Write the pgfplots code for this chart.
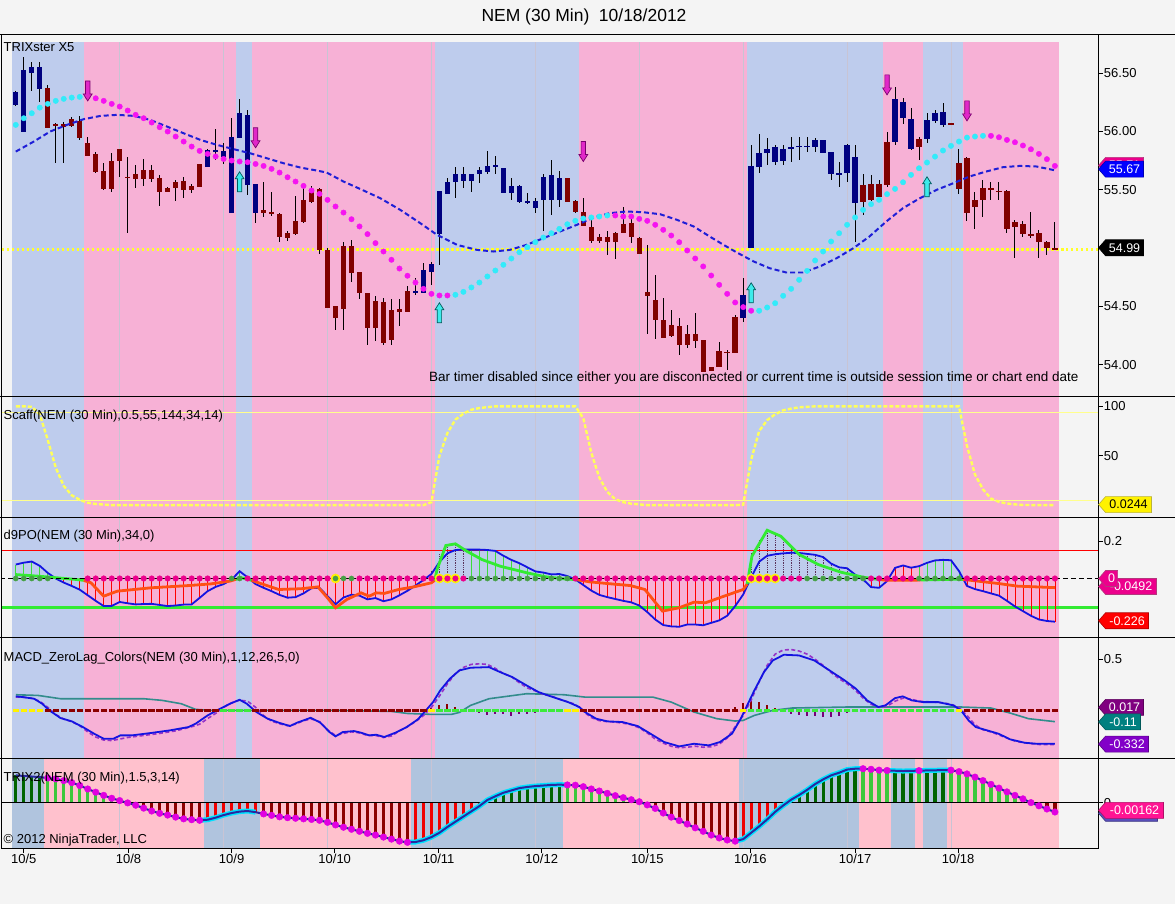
\documentclass[border=0pt]{standalone}
\usepackage{fontspec}
\setmainfont{Liberation Sans}
\usepackage{pgfplots}
\usepackage{pgfplotstable}
\pgfplotsset{compat=1.18}

\definecolor{bgc}{RGB}{244,244,244}
\definecolor{bblue}{RGB}{190,204,237}
\definecolor{bpink}{RGB}{247,177,214}
\definecolor{tpink}{RGB}{255,193,205}
\definecolor{tblue}{RGB}{176,196,222}
\definecolor{gridc}{RGB}{200,196,212}
\definecolor{upc}{RGB}{0,0,128}
\definecolor{dnc}{RGB}{128,0,0}
\definecolor{trixb}{RGB}{30,30,215}
\definecolor{dotc}{RGB}{50,235,250}
\definecolor{dotm}{RGB}{245,20,240}
\definecolor{arrm}{RGB}{225,40,200}
\definecolor{arrmd}{RGB}{120,0,110}
\definecolor{arrc}{RGB}{60,235,235}
\definecolor{arrcd}{RGB}{0,90,90}
\definecolor{yel}{RGB}{255,255,40}
\definecolor{scy}{RGB}{255,255,90}
\definecolor{scthin}{RGB}{255,255,140}
\definecolor{d9blue}{RGB}{20,20,225}
\definecolor{d9green}{RGB}{50,235,50}
\definecolor{d9orange}{RGB}{255,80,20}
\definecolor{d9dotg}{RGB}{70,160,70}
\definecolor{lgreen}{RGB}{60,220,60}
\definecolor{dotdark}{RGB}{90,50,90}
\definecolor{mteal}{RGB}{50,140,140}
\definecolor{mpurp}{RGB}{150,50,200}
\definecolor{mblue}{RGB}{20,20,225}
\definecolor{mdred}{RGB}{140,0,0}
\definecolor{mgreen}{RGB}{60,235,60}
\definecolor{mhpurp}{RGB}{120,0,120}
\definecolor{tdg}{RGB}{0,100,0}
\definecolor{tlg}{RGB}{60,200,60}
\definecolor{tdr}{RGB}{140,0,0}
\definecolor{trd}{RGB}{240,0,0}
\definecolor{tline}{RGB}{40,40,160}
\definecolor{tcyan}{RGB}{0,225,255}
\definecolor{tmag}{RGB}{225,0,225}
\definecolor{tagpurple}{RGB}{128,0,128}
\definecolor{tagviolet}{RGB}{130,0,200}
\definecolor{deeppink}{RGB}{255,20,147}
\definecolor{tagshadow}{RGB}{90,80,190}

\pgfdeclareplotmark{downarr}{%
  \pgfpathmoveto{\pgfqpoint{-2.2pt}{10pt}}%
  \pgfpathlineto{\pgfqpoint{2.2pt}{10pt}}%
  \pgfpathlineto{\pgfqpoint{2.2pt}{-3pt}}%
  \pgfpathlineto{\pgfqpoint{4.4pt}{-3pt}}%
  \pgfpathlineto{\pgfqpoint{0pt}{-10pt}}%
  \pgfpathlineto{\pgfqpoint{-4.4pt}{-3pt}}%
  \pgfpathlineto{\pgfqpoint{-2.2pt}{-3pt}}%
  \pgfpathclose
  \pgfusepathqfillstroke}
\pgfdeclareplotmark{uparr}{%
  \pgfpathmoveto{\pgfqpoint{-2.2pt}{-10pt}}%
  \pgfpathlineto{\pgfqpoint{2.2pt}{-10pt}}%
  \pgfpathlineto{\pgfqpoint{2.2pt}{3pt}}%
  \pgfpathlineto{\pgfqpoint{4.4pt}{3pt}}%
  \pgfpathlineto{\pgfqpoint{0pt}{10pt}}%
  \pgfpathlineto{\pgfqpoint{-4.4pt}{3pt}}%
  \pgfpathlineto{\pgfqpoint{-2.2pt}{3pt}}%
  \pgfpathclose
  \pgfusepathqfillstroke}

\pgfplotsset{
  panel/.style={
    scale only axis, width=1097.7pt, anchor=south west,
    xmin=-1.7875, xmax=135.425,
    axis background/.style={fill=bgc},
    axis line style={draw=none},
    xtick=\empty,
    ytick pos=right, yticklabel pos=right,
    tick align=outside, major tick length=4.5pt,
    tick style={black, line width=0.8pt},
    yticklabel style={font=\fontsize{13}{15}\selectfont, inner sep=1pt},
    scaled y ticks=false,
    clip=true,
  }
}
\newcommand\band[5]{\addplot[fill=#1, draw=none, forget plot] coordinates {(#2,#4) (#3,#4) (#3,#5) (#2,#5)};}
\newcommand\vgrid[2]{\pgfplotsinvokeforeach{13,26,39,52,65,78,91,104,117}{\addplot[gridc, line width=0.7pt, forget plot] coordinates {(##1,#1) (##1,#2)};}}
\newcommand\tagbox[5]{%
  \filldraw[fill=#2, draw=#2!70!black, line width=0.6pt] (1099,905-#1) -- (1106,913-#1) -- (1106+#4,913-#1) -- (1106+#4,897-#1) -- (1106,897-#1) -- cycle;
  \node[text=#3, font=\fontsize{12.5}{14}\selectfont, inner sep=0pt] at (1106+#4/2,905-#1) {#5};}

% ---------------- candles: i, up(1)/down(0), open, high, low, close
\pgfplotstableread{
i u o h l c
0 1 56.229 56.351 56.220 56.343
1 1 56.000 56.637 56.000 56.529
2 1 56.500 56.594 56.351 56.551
3 1 56.369 56.594 56.257 56.551
4 0 56.371 56.400 56.034 56.034
5 0 56.063 56.071 55.729 56.051
6 0 56.063 56.086 55.729 56.043
7 0 56.106 56.123 56.037 56.043
8 0 56.094 56.134 55.929 55.943
9 0 55.900 55.951 55.786 55.786
10 0 55.809 55.828 55.643 55.651
11 0 55.663 55.729 55.500 55.509
12 0 55.749 55.814 55.486 55.509
13 0 55.851 55.851 55.614 55.743
14 0 55.614 55.786 55.129 55.600
15 0 55.637 55.714 55.514 55.594
16 0 55.671 55.763 55.529 55.591
17 0 55.671 55.714 55.571 55.594
18 0 55.600 55.629 55.366 55.486
19 0 55.517 55.529 55.480 55.486
20 0 55.571 55.586 55.409 55.514
21 0 55.580 55.614 55.429 55.500
22 0 55.529 55.551 55.471 55.500
23 0 55.720 55.720 55.529 55.529
24 1 55.700 55.849 55.694 55.843
25 1 55.823 56.020 55.757 55.843
26 1 55.786 55.900 55.723 55.837
27 1 55.300 56.120 55.300 55.951
28 1 55.948 56.280 55.948 56.163
29 1 55.543 56.186 55.457 56.143
30 1 55.300 55.551 55.214 55.551
31 0 55.329 55.571 55.271 55.306
32 0 55.314 55.480 55.277 55.291
33 0 55.294 55.300 55.051 55.094
34 0 55.129 55.143 55.057 55.086
35 0 55.234 55.451 55.114 55.120
36 0 55.414 55.514 55.214 55.229
37 0 55.506 55.529 55.391 55.400
38 0 55.506 55.514 54.951 54.986
39 0 54.986 55.000 54.491 54.491
40 0 54.500 54.500 54.300 54.400
41 0 55.023 55.057 54.300 54.477
42 0 55.020 55.066 54.706 54.791
43 0 54.794 54.794 54.563 54.614
44 0 54.614 54.614 54.171 54.320
45 0 54.543 54.586 54.200 54.314
46 0 54.534 54.571 54.171 54.186
47 0 54.471 54.563 54.171 54.209
48 0 54.480 54.563 54.334 54.457
49 0 54.634 54.671 54.457 54.457
50 1 54.614 54.743 54.600 54.634
51 1 54.620 54.871 54.614 54.814
52 1 54.800 54.886 54.686 54.863
53 1 55.120 55.491 54.857 55.491
54 1 55.463 55.600 55.463 55.563
55 1 55.571 55.700 55.429 55.634
56 1 55.580 55.700 55.520 55.634
57 1 55.580 55.634 55.486 55.634
58 1 55.634 55.700 55.557 55.671
59 1 55.657 55.834 55.637 55.706
60 1 55.694 55.791 55.637 55.714
61 1 55.477 55.691 55.471 55.691
62 1 55.471 55.600 55.414 55.534
63 1 55.400 55.543 55.386 55.537
64 1 55.394 55.471 55.377 55.406
65 1 55.348 55.429 55.306 55.406
66 1 55.414 55.637 55.149 55.614
67 1 55.414 55.757 55.286 55.629
68 1 55.414 55.666 55.357 55.600
69 0 55.606 55.606 55.400 55.400
70 0 55.406 55.414 55.306 55.306
71 0 55.306 55.429 55.186 55.186
72 0 55.186 55.243 55.043 55.063
73 0 55.100 55.123 55.043 55.063
74 0 55.094 55.143 54.943 55.051
75 0 55.129 55.143 54.906 55.051
76 0 55.206 55.351 55.129 55.129
77 0 55.214 55.277 55.043 55.094
78 0 55.086 55.100 54.949 54.949
79 0 54.623 55.029 54.263 54.586
80 0 54.557 54.771 54.220 54.386
81 0 54.386 54.571 54.229 54.234
82 0 54.343 54.471 54.243 54.249
83 0 54.334 54.400 54.086 54.171
84 0 54.266 54.343 54.143 54.171
85 0 54.266 54.443 54.143 54.200
86 0 54.214 54.214 53.943 53.943
87 0 53.980 53.980 53.943 53.951
88 0 54.120 54.194 53.977 53.977
89 0 54.114 54.128 53.957 54.100
90 0 54.409 54.428 54.100 54.100
91 1 54.400 54.743 54.371 54.600
92 1 55.000 55.886 55.000 55.706
93 1 55.700 55.980 55.649 55.814
94 1 55.814 55.948 55.714 55.851
95 1 55.743 55.886 55.714 55.871
96 1 55.751 55.886 55.714 55.851
97 1 55.851 55.951 55.743 55.871
98 1 55.871 55.951 55.757 55.880
99 1 55.871 55.951 55.828 55.880
100 1 55.871 55.943 55.828 55.929
101 1 55.820 55.929 55.820 55.929
102 1 55.634 55.828 55.586 55.828
103 1 55.629 55.743 55.529 55.643
104 1 55.649 55.891 55.571 55.886
105 1 55.391 55.886 55.057 55.780
106 0 55.543 55.637 55.286 55.400
107 0 55.551 55.629 55.400 55.409
108 0 55.551 55.586 55.437 55.437
109 0 55.909 56.000 55.523 55.543
110 1 55.906 56.380 55.886 56.280
111 1 56.114 56.286 56.063 56.257
112 1 55.849 56.200 55.843 56.106
113 0 55.937 55.951 55.757 55.866
114 1 55.934 56.157 55.906 56.100
115 1 56.091 56.186 56.071 56.163
116 1 56.057 56.249 56.037 56.169
117 0 56.071 56.077 56.057 56.060
118 0 55.729 55.851 55.463 55.506
119 0 55.777 55.786 55.237 55.306
120 0 55.414 55.486 55.166 55.351
121 0 55.514 55.586 55.271 55.409
122 0 55.514 55.571 55.414 55.506
123 0 55.494 55.571 55.414 55.486
124 0 55.494 55.500 55.129 55.166
125 0 55.223 55.243 54.920 55.186
126 0 55.209 55.229 55.100 55.120
127 0 55.123 55.306 55.086 55.109
128 0 55.129 55.157 54.914 55.051
129 0 55.051 55.066 54.943 55.000
130 0 55.000 55.229 54.991 54.991
}\candles

% ---------------- TRIXster dots: i, price, c (1 cyan rising, 0 magenta falling)
\pgfplotstableread{
i p c
0 56.057 1
1 56.114 1
2 56.157 1
3 56.205 1
4 56.237 1
5 56.263 1
6 56.280 1
7 56.291 1
8 56.297 1
9 56.300 0
10 56.285 0
11 56.263 0
12 56.237 0
13 56.214 0
14 56.180 0
15 56.143 0
16 56.114 0
17 56.077 0
18 56.037 0
19 56.000 0
20 55.957 0
21 55.914 0
22 55.871 0
23 55.834 0
24 55.808 0
25 55.786 0
26 55.765 0
27 55.751 0
28 55.743 0
29 55.737 0
30 55.722 0
31 55.705 0
32 55.680 0
33 55.648 0
34 55.608 0
35 55.571 0
36 55.534 0
37 55.494 0
38 55.465 0
39 55.414 0
40 55.357 0
41 55.305 0
42 55.248 0
43 55.186 0
44 55.120 0
45 55.043 0
46 54.971 0
47 54.900 0
48 54.825 0
49 54.763 0
50 54.705 0
51 54.651 0
52 54.608 0
53 54.594 0
54 54.594 0
55 54.600 1
56 54.625 1
57 54.663 1
58 54.705 1
59 54.757 1
60 54.808 1
61 54.857 1
62 54.911 1
63 54.965 1
64 55.008 1
65 55.051 1
66 55.091 1
67 55.128 1
68 55.165 1
69 55.205 1
70 55.234 1
71 55.254 1
72 55.263 1
73 55.271 1
74 55.280 1
75 55.280 0
76 55.271 0
77 55.271 0
78 55.251 0
79 55.234 0
80 55.200 0
81 55.157 0
82 55.108 0
83 55.051 0
84 54.980 0
85 54.911 0
86 54.843 0
87 54.765 0
88 54.685 0
89 54.608 0
90 54.534 0
91 54.494 0
92 54.463 0
93 54.463 1
94 54.491 1
95 54.528 1
96 54.591 1
97 54.651 1
98 54.728 1
99 54.805 1
100 54.894 1
101 54.971 1
102 55.057 1
103 55.128 1
104 55.200 1
105 55.263 1
106 55.328 1
107 55.377 1
108 55.414 1
109 55.463 1
110 55.508 1
111 55.565 1
112 55.628 1
113 55.685 1
114 55.734 1
115 55.785 1
116 55.837 1
117 55.877 1
118 55.914 1
119 55.948 1
120 55.957 1
121 55.963 1
122 55.963 0
123 55.951 0
124 55.928 0
125 55.908 0
126 55.880 0
127 55.848 0
128 55.808 0
129 55.763 0
130 55.705 0
}\tdots

% ---------------- per-bar indicators
% sc: Scaff; d9: d9PO; dd: zero-dot colour (1 green, 2 magenta); dr: yellow ring;
% dk: d9PO bar style (0 red, 1 green, 2 dotted); mz: MACD zero-row colour (1 yellow, 2 dark red, 3 green);
% tx: TRIX2; tc: TRIX2 bar colour (1 dark green, 2 light green, 3 dark red, 4 red)
\pgfplotstableread{
i sc d9 dd dr dk mz tx tc
0 100 0.075 1 0 1 1 0.00470 1
1 100 0.085 1 0 1 1 0.00460 1
2 99.5 0.091 1 0 1 1 0.00450 1
3 92 0.068 1 0 1 1 0.00440 1
4 66 0.030 1 0 1 2 0.00425 2
5 38 0.000 0 0 1 2 0.00410 2
6 19.5 -0.022 0 0 0 2 0.00380 2
7 10 -0.040 0 0 0 2 0.00345 2
8 5.4 -0.060 0 0 0 2 0.00295 2
9 2.5 -0.090 2 0 0 2 0.00235 2
10 1.2 -0.120 2 0 0 2 0.00180 2
11 0.6 -0.148 2 0 0 2 0.00125 2
12 0 -0.147 2 0 0 2 0.00075 2
13 0 -0.126 2 0 0 2 0.00035 2
14 0 -0.133 2 0 0 2 -0.00005 3
15 0 -0.139 2 0 0 2 -0.00045 3
16 0 -0.137 2 0 0 2 -0.00095 3
17 0 -0.136 2 0 0 2 -0.00145 3
18 0 -0.142 2 0 0 2 -0.00185 3
19 0 -0.148 2 0 0 2 -0.00215 3
20 0 -0.145 2 0 0 2 -0.00250 3
21 0 -0.140 2 0 0 2 -0.00280 3
22 0 -0.139 2 0 0 2 -0.00295 3
23 0 -0.104 2 0 0 2 -0.00305 3
24 0 -0.068 2 0 0 2 -0.00295 4
25 0 -0.045 2 0 0 2 -0.00260 4
26 0 -0.030 2 0 0 3 -0.00215 4
27 0 -0.006 1 0 0 3 -0.00180 4
28 0 0.039 1 0 1 3 -0.00155 4
29 0 0.006 2 0 1 3 -0.00145 4
30 0 -0.030 2 0 0 2 -0.00165 4
31 0 -0.050 2 0 0 2 -0.00195 3
32 0 -0.068 2 0 0 2 -0.00220 3
33 0 -0.088 2 0 0 2 -0.00245 3
34 0 -0.103 2 0 0 2 -0.00260 3
35 0 -0.100 2 0 0 2 -0.00270 3
36 0 -0.080 2 0 0 2 -0.00280 3
37 0 -0.052 2 0 0 2 -0.00290 3
38 0 -0.050 2 0 0 2 -0.00305 3
39 0 -0.095 2 0 0 2 -0.00340 3
40 0 -0.139 1 1 0 2 -0.00385 3
41 0 -0.102 1 0 0 2 -0.00425 3
42 0 -0.087 1 0 0 2 -0.00460 3
43 0 -0.092 2 0 0 2 -0.00495 3
44 0 -0.112 2 0 0 2 -0.00530 3
45 0 -0.105 2 0 0 2 -0.00560 3
46 0 -0.122 2 0 0 2 -0.00595 3
47 0 -0.112 2 0 0 2 -0.00630 3
48 0 -0.090 2 0 0 2 -0.00665 3
49 0 -0.066 2 0 0 2 -0.00685 3
50 0 -0.038 2 0 0 2 -0.00680 4
51 0 -0.008 2 0 0 2 -0.00650 4
52 3 0.024 2 0 2 1 -0.00595 4
53 50 0.088 2 1 2 3 -0.00520 4
54 73 0.135 2 1 2 3 -0.00420 4
55 86.6 0.153 2 1 2 3 -0.00330 4
56 92.6 0.155 2 0 2 3 -0.00240 4
57 96.6 0.155 1 0 1 3 -0.00150 4
58 98.3 0.155 1 0 1 3 -0.00060 4
59 99.2 0.153 1 0 1 3 0.00045 1
60 100 0.148 1 0 1 3 0.00110 1
61 100 0.122 1 0 1 3 0.00170 1
62 100 0.100 1 0 1 3 0.00210 1
63 100 0.082 1 0 1 3 0.00250 1
64 100 0.060 1 0 1 3 0.00270 1
65 100 0.038 1 0 1 3 0.00285 1
66 100 0.032 1 0 1 3 0.00295 1
67 100 0.022 1 0 1 3 0.00305 1
68 100 0.024 1 0 1 3 0.00310 1
69 100 0.013 1 0 1 1 0.00305 2
70 100 -0.005 2 0 0 1 0.00300 2
71 88 -0.035 2 0 0 2 0.00275 2
72 53 -0.065 2 0 0 2 0.00235 2
73 28 -0.088 2 0 0 2 0.00200 2
74 13.4 -0.100 2 0 0 2 0.00160 2
75 6 -0.110 2 0 0 2 0.00120 2
76 3 -0.120 2 0 0 2 0.00085 2
77 1.5 -0.128 2 0 0 2 0.00050 2
78 0.8 -0.145 2 0 0 2 0.00015 2
79 0 -0.180 2 0 0 2 -0.00040 3
80 0 -0.220 2 0 0 2 -0.00100 3
81 0 -0.250 2 0 0 2 -0.00180 3
82 0 -0.257 2 0 0 2 -0.00250 3
83 0 -0.259 2 0 0 2 -0.00310 3
84 0 -0.247 2 0 0 2 -0.00370 3
85 0 -0.247 2 0 0 2 -0.00435 3
86 0 -0.251 2 0 0 2 -0.00495 3
87 0 -0.238 2 0 0 2 -0.00560 3
88 0 -0.225 2 0 0 2 -0.00610 3
89 0 -0.200 2 0 0 2 -0.00645 3
90 0 -0.148 2 0 0 2 -0.00665 3
91 0.5 -0.086 2 0 0 1 -0.00630 4
92 46 0.005 2 1 2 3 -0.00520 4
93 75 0.090 2 1 2 3 -0.00410 4
94 86 0.122 2 1 2 3 -0.00290 4
95 92 0.130 2 1 2 3 -0.00160 4
96 96 0.135 2 0 2 3 -0.00050 4
97 97.7 0.138 2 0 2 3 0.00050 1
98 99 0.137 2 0 2 3 0.00130 1
99 99.5 0.132 1 0 2 3 0.00220 1
100 100 0.127 1 0 2 3 0.00320 1
101 100 0.115 1 0 2 3 0.00400 1
102 100 0.080 1 0 2 3 0.00470 1
103 100 0.060 1 0 2 3 0.00515 1
104 100 0.055 1 0 2 3 0.00570 1
105 100 0.021 1 0 2 3 0.00585 1
106 100 -0.005 1 0 0 3 0.00585 2
107 100 -0.046 2 0 0 3 0.00575 2
108 100 -0.050 2 0 0 3 0.00560 2
109 100 -0.014 2 0 0 3 0.00555 2
110 100 0.057 2 0 0 3 0.00550 1
111 100 0.070 2 0 0 3 0.00545 1
112 100 0.058 2 0 0 3 0.00548 1
113 100 0.066 1 0 1 3 0.00552 2
114 100 0.084 1 0 1 3 0.00555 1
115 100 0.097 1 0 1 3 0.00558 1
116 100 0.100 1 0 1 3 0.00560 1
117 100 0.098 1 0 1 3 0.00560 2
118 100 0.040 1 0 1 1 0.00535 2
119 60 -0.040 2 0 0 2 0.00495 2
120 31 -0.057 2 0 0 2 0.00440 2
121 16 -0.068 2 0 0 2 0.00380 2
122 6.7 -0.080 2 0 0 2 0.00315 2
123 3.4 -0.092 2 0 0 2 0.00250 2
124 1.7 -0.120 2 0 0 2 0.00185 2
125 0.8 -0.150 2 0 0 2 0.00125 2
126 0.2 -0.175 2 0 0 2 0.00065 2
127 0.1 -0.200 2 0 0 2 0.00000 3
128 0.05 -0.220 2 0 0 2 -0.00055 3
129 0.03 -0.228 2 0 0 2 -0.00110 3
130 0.0244 -0.232 2 0 0 2 -0.00162 3
}\perbar

\begin{document}
\begin{tikzpicture}[x=1pt,y=1pt]
\fill[bgc] (0,0) rectangle (1175,905);

% ================= Panel 1: price
\begin{axis}[panel, at={(1pt,508.3pt)}, height=362.4pt, ymin=53.7288, ymax=56.8342,
  ytick={54,54.5,55.5,56,56.5}, yticklabels={54.00,54.50,55.50,56.00,56.50}]
\band{bblue}{-0.5}{8.5}{53.7}{56.771}
\band{bpink}{8.5}{27.5}{53.7}{56.771}
\band{bblue}{27.5}{29.5}{53.7}{56.771}
\band{bpink}{29.5}{52.5}{53.7}{56.771}
\band{bblue}{52.5}{70.5}{53.7}{56.771}
\band{bpink}{70.5}{91.5}{53.7}{56.771}
\band{bblue}{91.5}{108.5}{53.7}{56.771}
\band{bpink}{108.5}{113.5}{53.7}{56.771}
\band{bblue}{113.5}{118.5}{53.7}{56.771}
\band{bpink}{118.5}{130.5}{53.7}{56.771}
\vgrid{53.7}{56.771}
\addplot[yel, line width=2.6pt, dash pattern=on 2.6pt off 2.4pt, forget plot] coordinates {(-3,54.99) (137,54.99)};
% candle wicks
\addplot[draw=none, mark=none, forget plot, error bars/.cd, y dir=both, y explicit, error mark=none,
  error bar style={draw=black, line width=1pt}]
  table[x=i, y expr={(\thisrow{h}+\thisrow{l})/2}, y error expr={(\thisrow{h}-\thisrow{l})/2}] {\candles};
% bodies (rows of the other colour are sent above the axis)
\addplot[draw=none, mark=none, forget plot, error bars/.cd, y dir=both, y explicit, error mark=none,
  error bar style={draw=upc, line width=5.4pt}]
  table[x=i, y expr={\thisrow{u}==1 ? (\thisrow{o}+\thisrow{c})/2 : 58}, y error expr={max(abs(\thisrow{o}-\thisrow{c})/2,0.005)}] {\candles};
\addplot[draw=none, mark=none, forget plot, error bars/.cd, y dir=both, y explicit, error mark=none,
  error bar style={draw=dnc, line width=5.4pt}]
  table[x=i, y expr={\thisrow{u}==0 ? (\thisrow{o}+\thisrow{c})/2 : 58}, y error expr={max(abs(\thisrow{o}-\thisrow{c})/2,0.005)}] {\candles};
% TRIXster baseline
\addplot[trixb, line width=2pt, dash pattern=on 5pt off 3pt, forget plot] coordinates {
(0,55.828) (2.25,55.914) (4.3,56.0) (6.4,56.057) (8.5,56.106) (10.6,56.134) (12.7,56.143) (14.8,56.134)
(16.8,56.1) (18.9,56.043) (21.0,55.985) (23.1,55.928) (25.2,55.885) (27.3,55.848) (29.3,55.814) (31.4,55.771)
(33.5,55.728) (35.6,55.691) (37.7,55.665) (38.9,55.648) (41.0,55.571) (43.1,55.507) (45.6,55.428) (48.1,55.328)
(50.6,55.214) (52.7,55.114) (55.2,55.028) (57.7,54.985) (59.8,54.971) (61.8,54.985) (63.9,55.028) (66.0,55.085)
(68.1,55.143) (70.2,55.2) (72.3,55.263) (74.3,55.3) (76.4,55.314) (78.5,55.308) (80.6,55.291) (82.7,55.243)
(84.8,55.186) (86.8,55.1) (88.5,55.03) (90.2,54.963) (92.3,54.886) (94.3,54.828) (96.4,54.791) (98.5,54.791)
(100.6,54.843) (102.7,54.914) (104.8,55.0) (106.8,55.1) (108.9,55.228) (111.0,55.343) (113.1,55.428) (115.2,55.5)
(117.3,55.557) (119.3,55.614) (121.4,55.657) (123.5,55.694) (125.6,55.705) (127.7,55.7) (129.75,55.671) (130.2,55.665)};
% TRIXster dots
\addplot[only marks, mark=*, mark size=2.7pt, mark options={fill=dotc, draw=dotc}, forget plot] table[x=i,y expr={\thisrow{c}==1 ? \thisrow{p} : 58}]{\tdots};
\addplot[only marks, mark=*, mark size=2.7pt, mark options={fill=dotm, draw=dotm}, forget plot] table[x=i,y expr={\thisrow{c}==0 ? \thisrow{p} : 58}]{\tdots};
% signal arrows
\addplot[only marks, mark=downarr, mark options={fill=arrm, draw=arrmd, line width=0.7pt}, forget plot] coordinates {(9,56.348) (30,55.946) (71,55.828) (109,56.4) (119,56.177)};
\addplot[only marks, mark=uparr, mark options={fill=arrc, draw=arrcd, line width=0.7pt}, forget plot] coordinates {(28,55.569) (53,54.446) (92,54.617) (114,55.526)};
\end{axis}

% ================= Panel 2: Scaff
\begin{axis}[panel, at={(1pt,387.3pt)}, height=121pt, ymin=-12.23, ymax=110.11,
  ytick={50,100}, yticklabels={50,100}]
\band{bblue}{-0.5}{8.5}{-13}{111}
\band{bpink}{8.5}{27.5}{-13}{111}
\band{bblue}{27.5}{29.5}{-13}{111}
\band{bpink}{29.5}{52.5}{-13}{111}
\band{bblue}{52.5}{70.5}{-13}{111}
\band{bpink}{70.5}{91.5}{-13}{111}
\band{bblue}{91.5}{108.5}{-13}{111}
\band{bpink}{108.5}{113.5}{-13}{111}
\band{bblue}{113.5}{118.5}{-13}{111}
\band{bpink}{118.5}{130.5}{-13}{111}
\vgrid{-13}{111}
\addplot[scthin, line width=0.8pt, forget plot] coordinates {(-3,94) (137,94)};
\addplot[scthin, line width=0.8pt, forget plot] coordinates {(-3,4.6) (137,4.6)};
\addplot[scy, line width=2.4pt, dash pattern=on 4pt off 2pt, forget plot] table[x=i,y=sc]{\perbar};
\end{axis}

% ================= Panel 3: d9PO
\begin{axis}[panel, at={(1pt,266.7pt)}, height=120.6pt, ymin=-0.318, ymax=0.3287,
  ytick={0.2}, yticklabels={0.2}]
\band{bblue}{-0.5}{8.5}{-0.33}{0.33}
\band{bpink}{8.5}{27.5}{-0.33}{0.33}
\band{bblue}{27.5}{29.5}{-0.33}{0.33}
\band{bpink}{29.5}{52.5}{-0.33}{0.33}
\band{bblue}{52.5}{70.5}{-0.33}{0.33}
\band{bpink}{70.5}{91.5}{-0.33}{0.33}
\band{bblue}{91.5}{108.5}{-0.33}{0.33}
\band{bpink}{108.5}{113.5}{-0.33}{0.33}
\band{bblue}{113.5}{118.5}{-0.33}{0.33}
\band{bpink}{118.5}{130.5}{-0.33}{0.33}
\vgrid{-0.33}{0.33}
\addplot[red, line width=0.9pt, forget plot] coordinates {(-3,0.152) (137,0.152)};
\addplot[d9green, line width=2.6pt, forget plot] coordinates {(-3,-0.157) (137,-0.157)};
\addplot[ycomb, red, line width=0.8pt, forget plot] table[x=i,y expr={\thisrow{dk}==0 ? \thisrow{d9} : 0}]{\perbar};
\addplot[ycomb, lgreen, line width=0.8pt, forget plot] table[x=i,y expr={\thisrow{dk}==1 ? \thisrow{d9} : 0}]{\perbar};
\addplot[ycomb, dotdark, line width=0.8pt, densely dotted, forget plot] coordinates {
(52,0.04) (53,0.13) (54,0.18) (55,0.186) (56,0.165) (92,0.14) (93,0.21) (94,0.259) (95,0.24) (96,0.2)
(97,0.165) (98,0.137) (99,0.132) (100,0.127) (101,0.115) (102,0.08) (103,0.06) (104,0.055) (105,0.021)};
\addplot[d9blue, line width=1.8pt, forget plot] table[x=i,y=d9]{\perbar};
% signal line, green above zero, orange below
\addplot[d9green, line width=2.8pt, forget plot] coordinates {(0,0.021) (2.8,0.0125) (5.1,0.004) (7.5,-0.005) (8.5,-0.01)};
\addplot[d9orange, line width=2.8pt, forget plot] coordinates {(8.5,-0.01) (9.4,-0.023) (11.0,-0.095) (12.7,-0.068) (16.9,-0.05) (21.6,-0.038) (24.4,-0.029) (26.8,-0.014) (27.5,-0.005)};
\addplot[d9green, line width=2.8pt, forget plot] coordinates {(27.5,-0.005) (28.2,0.004) (29.1,-0.005) (29.5,-0.01)};
\addplot[d9orange, line width=2.8pt, forget plot] coordinates {(29.5,-0.01) (31.0,-0.032) (32.9,-0.059) (35.7,-0.055) (37.8,-0.045) (39.0,-0.104) (40.0,-0.157) (41.4,-0.113) (43.2,-0.077) (44.2,-0.095) (45.1,-0.077) (46.1,-0.08) (47.9,-0.059) (49.8,-0.045) (52.0,-0.023) (52.4,-0.01)};
\addplot[d9green, line width=2.8pt, forget plot] coordinates {(52.4,-0.01) (52.7,0.048) (53.8,0.177) (55.0,0.186) (56.4,0.147) (58.3,0.102) (60.6,0.066) (64.0,0.030) (66.3,0.009) (68.6,-0.002) (70.1,-0.006)};
\addplot[d9orange, line width=2.8pt, forget plot] coordinates {(70.1,-0.006) (71.8,-0.018) (74.0,-0.027) (76.9,-0.038) (78.7,-0.059) (80.9,-0.175) (83.0,-0.157) (84.85,-0.127) (86.3,-0.13) (88.6,-0.095) (91.0,-0.059) (91.5,-0.03)};
\addplot[d9green, line width=2.8pt, forget plot] coordinates {(91.5,-0.03) (92.1,0.12) (94.0,0.259) (95.7,0.227) (98.0,0.129) (100.4,0.075) (103.2,0.034) (106.0,0.007) (107.9,-0.005)};
\addplot[d9orange, line width=2.8pt, forget plot] coordinates {(107.9,-0.005) (108.8,-0.009) (112.6,-0.009) (113.2,-0.008)};
\addplot[d9green, line width=2.8pt, forget plot] coordinates {(113.2,-0.008) (117.8,-0.004) (118.5,-0.005)};
\addplot[d9orange, line width=2.8pt, forget plot] coordinates {(118.5,-0.005) (122.95,-0.027) (125.3,-0.041) (130.0,-0.049)};
\addplot[black, line width=1.6pt, dash pattern=on 5pt off 3pt, forget plot] coordinates {(-3,0) (137,0)};
\addplot[only marks, mark=*, mark size=4.6pt, mark options={fill=yellow, draw=yellow}, forget plot] table[x=i,y expr={\thisrow{dr}==1 ? 0 : 5}]{\perbar};
\addplot[only marks, mark=*, mark size=2.6pt, mark options={fill=d9dotg, draw=d9dotg}, forget plot] table[x=i,y expr={\thisrow{dd}==1 ? 0 : 5}]{\perbar};
\addplot[only marks, mark=*, mark size=2.8pt, mark options={fill=magenta, draw=magenta}, forget plot] table[x=i,y expr={\thisrow{dd}==2 ? 0 : 5}]{\perbar};
\end{axis}

% ================= Panel 4: MACD
\begin{axis}[panel, at={(1pt,145.7pt)}, height=121pt, ymin=-0.4717, ymax=0.71,
  ytick={0.5}, yticklabels={0.5}]
\band{bblue}{-0.5}{8.5}{-0.48}{0.72}
\band{bpink}{8.5}{27.5}{-0.48}{0.72}
\band{bblue}{27.5}{29.5}{-0.48}{0.72}
\band{bpink}{29.5}{52.5}{-0.48}{0.72}
\band{bblue}{52.5}{70.5}{-0.48}{0.72}
\band{bpink}{70.5}{91.5}{-0.48}{0.72}
\band{bblue}{91.5}{108.5}{-0.48}{0.72}
\band{bpink}{108.5}{113.5}{-0.48}{0.72}
\band{bblue}{113.5}{118.5}{-0.48}{0.72}
\band{bpink}{118.5}{130.5}{-0.48}{0.72}
\vgrid{-0.48}{0.72}
\addplot[ycomb, mdred, line width=2pt, forget plot] coordinates {(52,0.02) (53,0.05) (54,0.06) (55,0.03) (90,0.03) (91,0.07) (92,0.1) (93,0.08) (94,0.05) (95,0.02)};
\addplot[ycomb, mhpurp, line width=2pt, forget plot] coordinates {(57,-0.02) (58,-0.03) (59,-0.045) (60,-0.04) (61,-0.04) (62,-0.05) (63,-0.04) (64,-0.04) (65,-0.03) (66,-0.02)
 (96,-0.02) (97,-0.035) (98,-0.045) (99,-0.05) (100,-0.055) (101,-0.065) (102,-0.06) (103,-0.05) (104,-0.03) (105,-0.02)};
\addplot[mteal, line width=1.6pt, forget plot] coordinates {(0,0.153) (2.8,0.146) (5.6,0.114) (9.8,0.114) (16,0.114) (18.3,0.098) (20.7,0.065) (22.5,0.01) (24.4,0) (30,0) (40,0) (47,-0.01) (49,-0.03) (52,-0.039) (54.5,-0.039) (55.5,-0.02) (56.9,0.049) (59.2,0.114) (63.9,0.163) (68.6,0.153) (71.2,0.13) (79.7,0.13) (82,0.081) (84.85,-0.016) (87.7,-0.081) (90,-0.104) (91,-0.098) (92.4,-0.049) (94.7,0) (97.1,0.023) (104,0.033) (118.25,0.033) (122,0.023) (124.4,-0.026) (126.7,-0.081) (130,-0.11)};
\addplot[only marks, mark=-, mark size=3.2pt, mark options={draw=yellow, line width=3.6pt}, forget plot] table[x=i,y expr={\thisrow{mz}==1 ? 0 : 5}]{\perbar};
\addplot[only marks, mark=-, mark size=3.2pt, mark options={draw=mdred, line width=3.6pt}, forget plot] table[x=i,y expr={\thisrow{mz}==2 ? 0 : 5}]{\perbar};
\addplot[only marks, mark=-, mark size=3.2pt, mark options={draw=mgreen, line width=3.6pt}, forget plot] table[x=i,y expr={\thisrow{mz}==3 ? 0 : 5}]{\perbar};
\addplot[mpurp, line width=1.6pt, dash pattern=on 4pt off 2.5pt, forget plot] coordinates {
(0,0.13) (1,0.128) (2,0.118) (3,0.09) (4,0.03) (5,-0.04) (6,-0.085) (7,-0.11) (8,-0.15) (9,-0.21) (10,-0.26) (11,-0.29) (12,-0.295) (13,-0.28) (14,-0.265) (16,-0.245) (18,-0.225) (20,-0.2) (22,-0.16) (23,-0.135) (24,-0.08) (25,-0.03) (26,0.03) (27,0.075) (28,0.1) (29,0.09) (30,0.03) (31,-0.05) (32,-0.105) (33,-0.13) (34,-0.15) (35,-0.135) (36,-0.1) (37,-0.085) (38,-0.11) (39,-0.19) (40,-0.245) (41,-0.225) (42,-0.21) (43,-0.22) (44,-0.245) (45,-0.245) (46,-0.265) (47,-0.25) (48,-0.2) (49,-0.16) (50,-0.11) (51,-0.05) (52,0.03) (53,0.14) (54,0.26) (55,0.36) (56,0.42) (57,0.45) (58,0.455) (59,0.45) (60,0.41) (61,0.36) (62,0.33) (63,0.27) (64,0.22) (65,0.19) (66,0.155) (67,0.14) (68,0.11) (69,0.085) (70,0.06) (71,-0.01) (72,-0.07) (73,-0.1) (74,-0.11) (75,-0.115) (76,-0.125) (77,-0.14) (78,-0.17) (79,-0.22) (80,-0.28) (81,-0.32) (82,-0.35) (83,-0.365) (84,-0.36) (85,-0.35) (86,-0.36) (87,-0.355) (88,-0.33) (89,-0.27) (90,-0.16) (91,-0.05) (92,0.1) (93,0.28) (94,0.44) (95,0.55) (96,0.59) (97,0.595) (98,0.58) (99,0.55) (100,0.5) (101,0.44) (102,0.37) (103,0.31) (104,0.26) (105,0.2) (106,0.12) (107,0.06) (108,0.03) (109,0.04) (110,0.09) (111,0.12) (112,0.11) (113,0.09) (114,0.085) (115,0.08) (116,0.075) (117,0.06) (118,0.03) (119,-0.05) (120,-0.14) (121,-0.19) (122,-0.21) (123,-0.24) (124,-0.27) (125,-0.3) (126,-0.315) (127,-0.325) (128,-0.333) (129,-0.335) (130,-0.335)};
\addplot[mblue, line width=1.8pt, forget plot] coordinates {
(0,0.137) (0.9,0.13) (2.3,0.114) (3.3,0.065) (4.2,0) (5.6,-0.075) (7.0,-0.107) (8.4,-0.163) (9.8,-0.228) (11.0,-0.277) (12.2,-0.277) (13.1,-0.244) (14.55,-0.244) (16.9,-0.221) (19.3,-0.195) (21.6,-0.163) (22.5,-0.13) (24.0,-0.049) (25.4,0.01) (26.8,0.065) (28.0,0.104) (28.9,0.065) (30.1,-0.016) (31.5,-0.081) (32.9,-0.12) (34.3,-0.153) (35.2,-0.12) (36.9,-0.072) (38.1,-0.12) (39.25,-0.212) (40.0,-0.254) (40.9,-0.212) (42.3,-0.202) (43.2,-0.218) (44.2,-0.244) (45.1,-0.238) (46.1,-0.26) (47.5,-0.218) (48.9,-0.163) (50.3,-0.088) (51.2,-0.01) (52.2,0.081) (53.1,0.195) (54.3,0.309) (55.5,0.391) (56.9,0.417) (59.2,0.423) (60.6,0.374) (62.1,0.326) (63.9,0.244) (65.4,0.179) (67.2,0.13) (69.1,0.081) (70.5,0.033) (71.2,-0.016) (72.6,-0.081) (74.0,-0.107) (75.9,-0.114) (77.8,-0.153) (79.4,-0.228) (81.1,-0.309) (83.0,-0.352) (84.85,-0.326) (86.7,-0.342) (88.1,-0.309) (89.6,-0.228) (90.7,-0.081) (91.4,0.033) (92.4,0.195) (93.6,0.374) (94.7,0.488) (96.1,0.544) (98.0,0.537) (99.9,0.488) (101.8,0.391) (103.7,0.293) (105.1,0.212) (106.5,0.098) (107.9,0.033) (108.8,0.049) (110.0,0.12) (110.96,0.137) (112.1,0.098) (113.5,0.081) (115.4,0.081) (117.3,0.049) (118.25,0) (119.2,-0.098) (120.1,-0.163) (121.5,-0.195) (122.95,-0.228) (124.4,-0.283) (126.2,-0.316) (127.7,-0.326) (130,-0.326)};
\end{axis}

% ================= Panel 5: TRIX2
\begin{axis}[panel, at={(1pt,55.7pt)}, height=90pt, ymin=-0.00793, ymax=0.007586,
  ytick={0}, yticklabels={0},
  xtick={1.0,14.1,27.0,39.9,52.9,65.8,79.0,91.9,105.0,117.9},
  xticklabels={10/5,10/8,10/9,10/10,10/11,10/12,10/15,10/16,10/17,10/18},
  xtick pos=left, xticklabel style={font=\fontsize{13}{15}\selectfont, inner sep=1pt}]
\band{tblue}{-0.5}{3.5}{-0.008}{0.008}
\band{tpink}{3.5}{23.5}{-0.008}{0.008}
\band{tblue}{23.5}{30.5}{-0.008}{0.008}
\band{tpink}{30.5}{49.5}{-0.008}{0.008}
\band{tblue}{49.5}{68.5}{-0.008}{0.008}
\band{tpink}{68.5}{90.5}{-0.008}{0.008}
\band{tblue}{90.5}{105.5}{-0.008}{0.008}
\band{tpink}{105.5}{109.5}{-0.008}{0.008}
\band{tblue}{109.5}{112.5}{-0.008}{0.008}
\band{tpink}{112.5}{113.5}{-0.008}{0.008}
\band{tblue}{113.5}{116.5}{-0.008}{0.008}
\band{tpink}{116.5}{130.5}{-0.008}{0.008}
\vgrid{-0.008}{0.008}
\addplot[ycomb, tdg, line width=3.2pt, forget plot] table[x=i,y expr={\thisrow{tc}==1 ? \thisrow{tx} : 0}]{\perbar};
\addplot[ycomb, tlg, line width=3.2pt, forget plot] table[x=i,y expr={\thisrow{tc}==2 ? \thisrow{tx} : 0}]{\perbar};
\addplot[ycomb, tdr, line width=3.2pt, forget plot] table[x=i,y expr={\thisrow{tc}==3 ? \thisrow{tx} : 0}]{\perbar};
\addplot[ycomb, trd, line width=3.2pt, forget plot] table[x=i,y expr={\thisrow{tc}==4 ? \thisrow{tx} : 0}]{\perbar};
\addplot[black, line width=1pt, forget plot] coordinates {(-3,0) (137,0)};
\addplot[tcyan, line width=5pt, restrict x to domain=23:30, forget plot] table[x=i,y=tx]{\perbar};
\addplot[tcyan, line width=5pt, restrict x to domain=49:69, forget plot] table[x=i,y=tx]{\perbar};
\addplot[tcyan, line width=5pt, restrict x to domain=90:106, forget plot] table[x=i,y=tx]{\perbar};
\addplot[tcyan, line width=5pt, restrict x to domain=109:117, forget plot] table[x=i,y=tx]{\perbar};
\addplot[tline, line width=2pt, forget plot] table[x=i,y=tx]{\perbar};
\addplot[only marks, mark=*, mark size=3.3pt, mark options={fill=tmag, draw=tmag}, forget plot] table[x=i,y expr={(\thisrow{tc}==2 || \thisrow{tc}==3) ? \thisrow{tx} : 0.5}]{\perbar};
\end{axis}

% ================= frame
\draw[black, line width=1pt] (0,870.7) -- (1175,870.7);
\draw[black, line width=1pt] (0,508.3) -- (1175,508.3);
\draw[black, line width=1pt] (0,387.3) -- (1175,387.3);
\draw[black, line width=1pt] (0,266.7) -- (1175,266.7);
\draw[black, line width=1pt] (0,145.7) -- (1175,145.7);
\draw[black, line width=1pt] (1,55.7) -- (1098.7,55.7);
\draw[black, line width=1pt] (1,55.7) -- (1,870.7);
\draw[black, line width=1pt] (1098.7,55.7) -- (1098.7,870.7);

% ================= value tags
\tagbox{165.5}{magenta}{white}{38}{55.71}
\tagbox{169.3}{blue}{white}{38}{55.67}
\tagbox{248}{black}{white}{38}{54.99}
\tagbox{505}{yellow}{black}{46}{0.0244}
\tagbox{587}{magenta}{white}{51}{-0.0492}
\tagbox{579}{magenta}{white}{12}{0}
\tagbox{621.3}{red}{white}{43}{-0.226}
\tagbox{708}{tagpurple}{white}{38}{0.017}
\tagbox{722.5}{teal}{white}{35}{-0.11}
\tagbox{744.7}{tagviolet}{white}{43}{-0.332}
\tagbox{814}{tagshadow}{white}{52}{}
\tagbox{811}{deeppink}{white}{58}{-0.00162}

% ================= texts
\node[font=\fontsize{17.5}{20}\selectfont, inner sep=0pt] at (584,888.3) {NEM (30 Min)\hspace{0.55em}10/18/2012};
\node[anchor=west, inner sep=0pt, font=\fontsize{13}{15}\selectfont] at (3,857.7) {TRIXster X5};
\node[anchor=west, inner sep=0pt, font=\fontsize{13}{15}\selectfont] at (3,489) {Scaff(NEM (30 Min),0.5,55,144,34,14)};
\node[anchor=west, inner sep=0pt, font=\fontsize{13}{15}\selectfont] at (3,368.3) {d9PO(NEM (30 Min),34,0)};
\node[anchor=west, inner sep=0pt, font=\fontsize{13}{15}\selectfont] at (3,246.3) {MACD\_ZeroLag\_Colors(NEM (30 Min),1,12,26,5,0)};
\node[anchor=west, inner sep=0pt, font=\fontsize{13}{15}\selectfont] at (3,125.7) {TRIX2(NEM (30 Min),1.5,3,14)};
\node[anchor=west, inner sep=0pt, font=\fontsize{13}{15}\selectfont] at (3,64) {© 2012 NinjaTrader, LLC};
\node[anchor=east, inner sep=0pt, font=\fontsize{13.5}{15}\selectfont] at (1079,526.7) {Bar timer disabled since either you are disconnected or current time is outside session time or chart end date};
\end{tikzpicture}
\end{document}
